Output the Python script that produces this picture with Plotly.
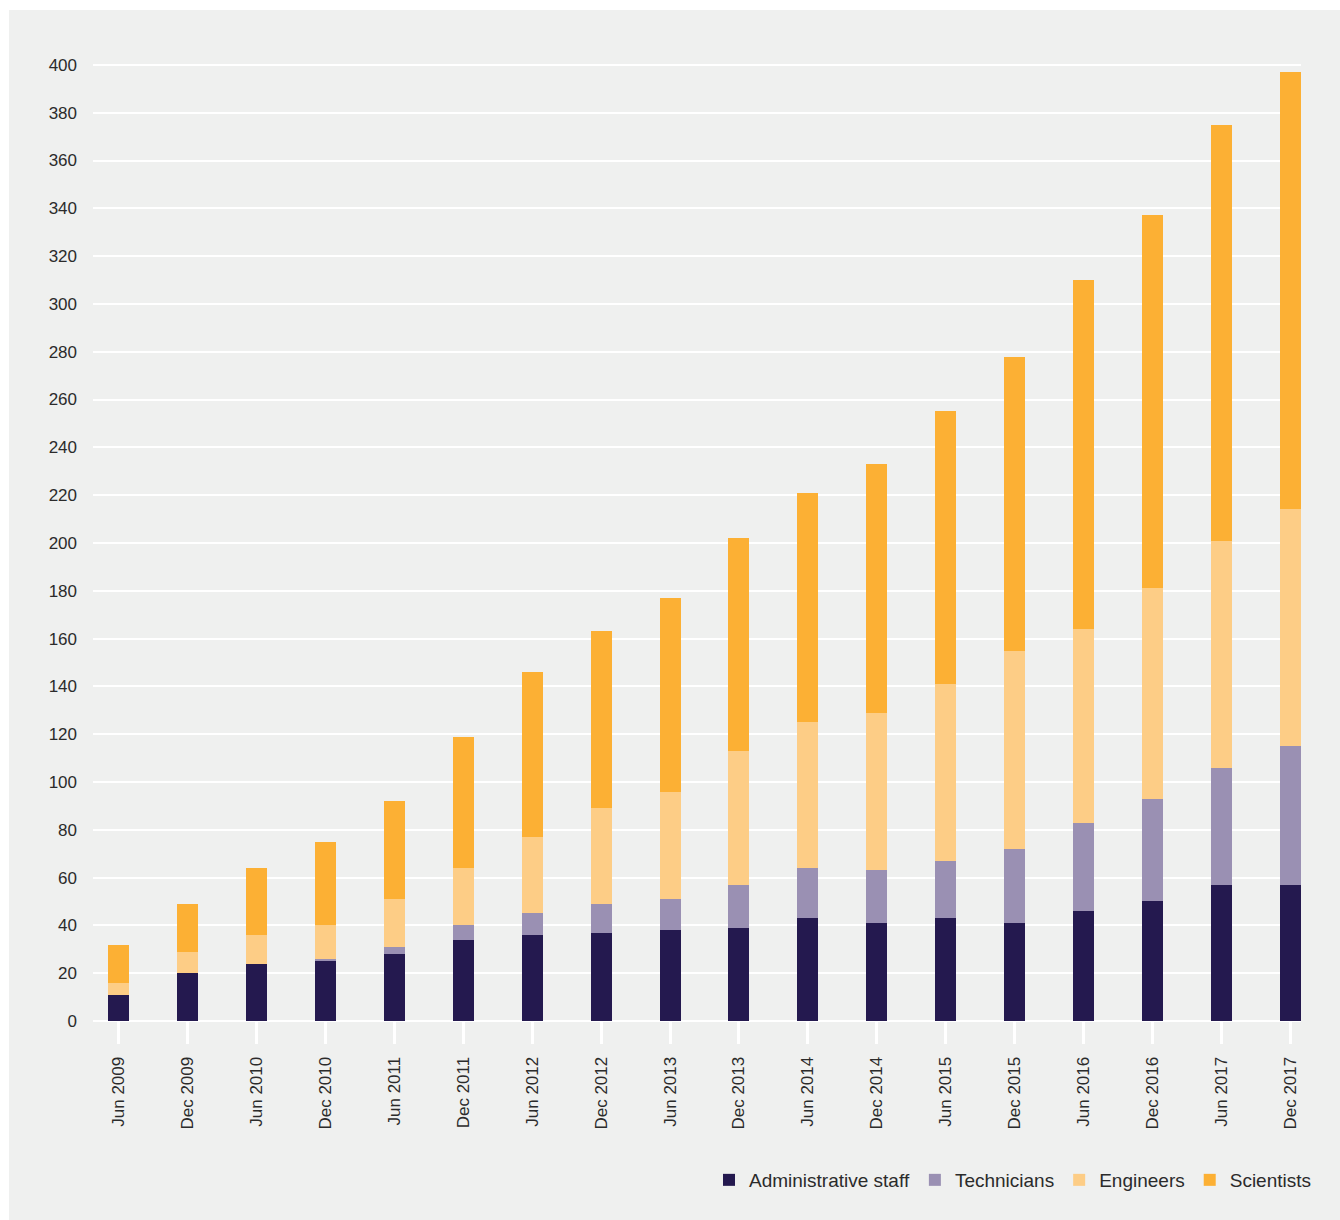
import plotly.graph_objects as go

# Half-yearly staff headcount by category (stacked)
periods = ["Jun 2009", "Dec 2009", "Jun 2010", "Dec 2010", "Jun 2011", "Dec 2011",
           "Jun 2012", "Dec 2012", "Jun 2013", "Dec 2013", "Jun 2014", "Dec 2014",
           "Jun 2015", "Dec 2015", "Jun 2016", "Dec 2016", "Jun 2017", "Dec 2017"]

administrative_staff = [11, 20, 24, 25, 28, 34, 36, 37, 38, 39, 43, 41, 43, 41, 46, 50, 57, 57]
technicians = [0, 0, 0, 1, 3, 6, 9, 12, 13, 18, 21, 22, 24, 31, 37, 43, 49, 58]
engineers = [5, 9, 12, 14, 20, 24, 32, 40, 45, 56, 61, 66, 74, 83, 81, 88, 95, 99]
scientists = [16, 20, 28, 35, 41, 55, 69, 74, 81, 89, 96, 104, 114, 123, 146, 156, 174, 183]

y_ticks = list(range(0, 401, 20))

series = [
    ("Administrative staff", administrative_staff, "#24194f"),
    ("Technicians", technicians, "#9a90b3"),
    ("Engineers", engineers, "#fdcd86"),
    ("Scientists", scientists, "#fcb034"),
]

W, H = 1340, 1220
L, R, T, B = 93, 39, 41, 199
BG = "#eff0ef"
FONT = "Liberation Sans, Arial, Helvetica, sans-serif"

x_pos = list(range(len(periods)))

fig = go.Figure()
for name, vals, color in series:
    fig.add_trace(go.Bar(
        x=x_pos, y=vals, name=name,
        marker=dict(color=color, line=dict(width=0)),
        width=0.305,
    ))

plot_w = W - L - R
plot_h = H - T - B

# thin white border along the top and left of the grey panel
top_edge = (H - B) / plot_h
fig.add_shape(
    type="rect", xref="paper", yref="paper", layer="below",
    x0=-L / plot_w - 0.05, x1=(W - L) / plot_w + 0.05,
    y0=(H - 10 - B) / plot_h, y1=top_edge + 0.05,
    fillcolor="white", line=dict(width=0),
)
fig.add_shape(
    type="rect", xref="paper", yref="paper", layer="below",
    x0=-L / plot_w - 0.05, x1=(9 - L) / plot_w,
    y0=-B / plot_h - 0.05, y1=top_edge + 0.05,
    fillcolor="white", line=dict(width=0),
)

fig.update_layout(
    width=W, height=H,
    barmode="stack",
    paper_bgcolor=BG,
    plot_bgcolor=BG,
    margin=dict(l=L, r=R, t=T, b=B, pad=0),
    font=dict(family=FONT, color="#2b2b2b", size=17),
    bargap=0,
    legend=dict(
        orientation="h",
        x=(1317 - L) / plot_w, xanchor="right",
        y=-(1180 - (H - B)) / plot_h, yanchor="middle",
        font=dict(size=19, color="#2b2b2b"),
        bgcolor="rgba(0,0,0,0)",
        traceorder="normal",
        itemclick=False,
    ),
    xaxis=dict(
        range=[-0.37, 17.1525],
        tickvals=x_pos, ticktext=periods,
        tickangle=-90,
        ticks="outside", ticklen=22, tickwidth=3, tickcolor="white",
        ticklabelstandoff=6,
        showgrid=False, zeroline=False, showline=False,
        tickfont=dict(size=17, color="#2b2b2b"),
    ),
    yaxis=dict(
        range=[0, 410],
        tickvals=y_ticks,
        showgrid=True, gridcolor="white", gridwidth=2,
        zeroline=True, zerolinecolor="white", zerolinewidth=2,
        showline=False, ticks="",
        ticklabelstandoff=15,
        tickfont=dict(size=17, color="#2b2b2b"),
    ),
)

fig.write_html("out.html")
